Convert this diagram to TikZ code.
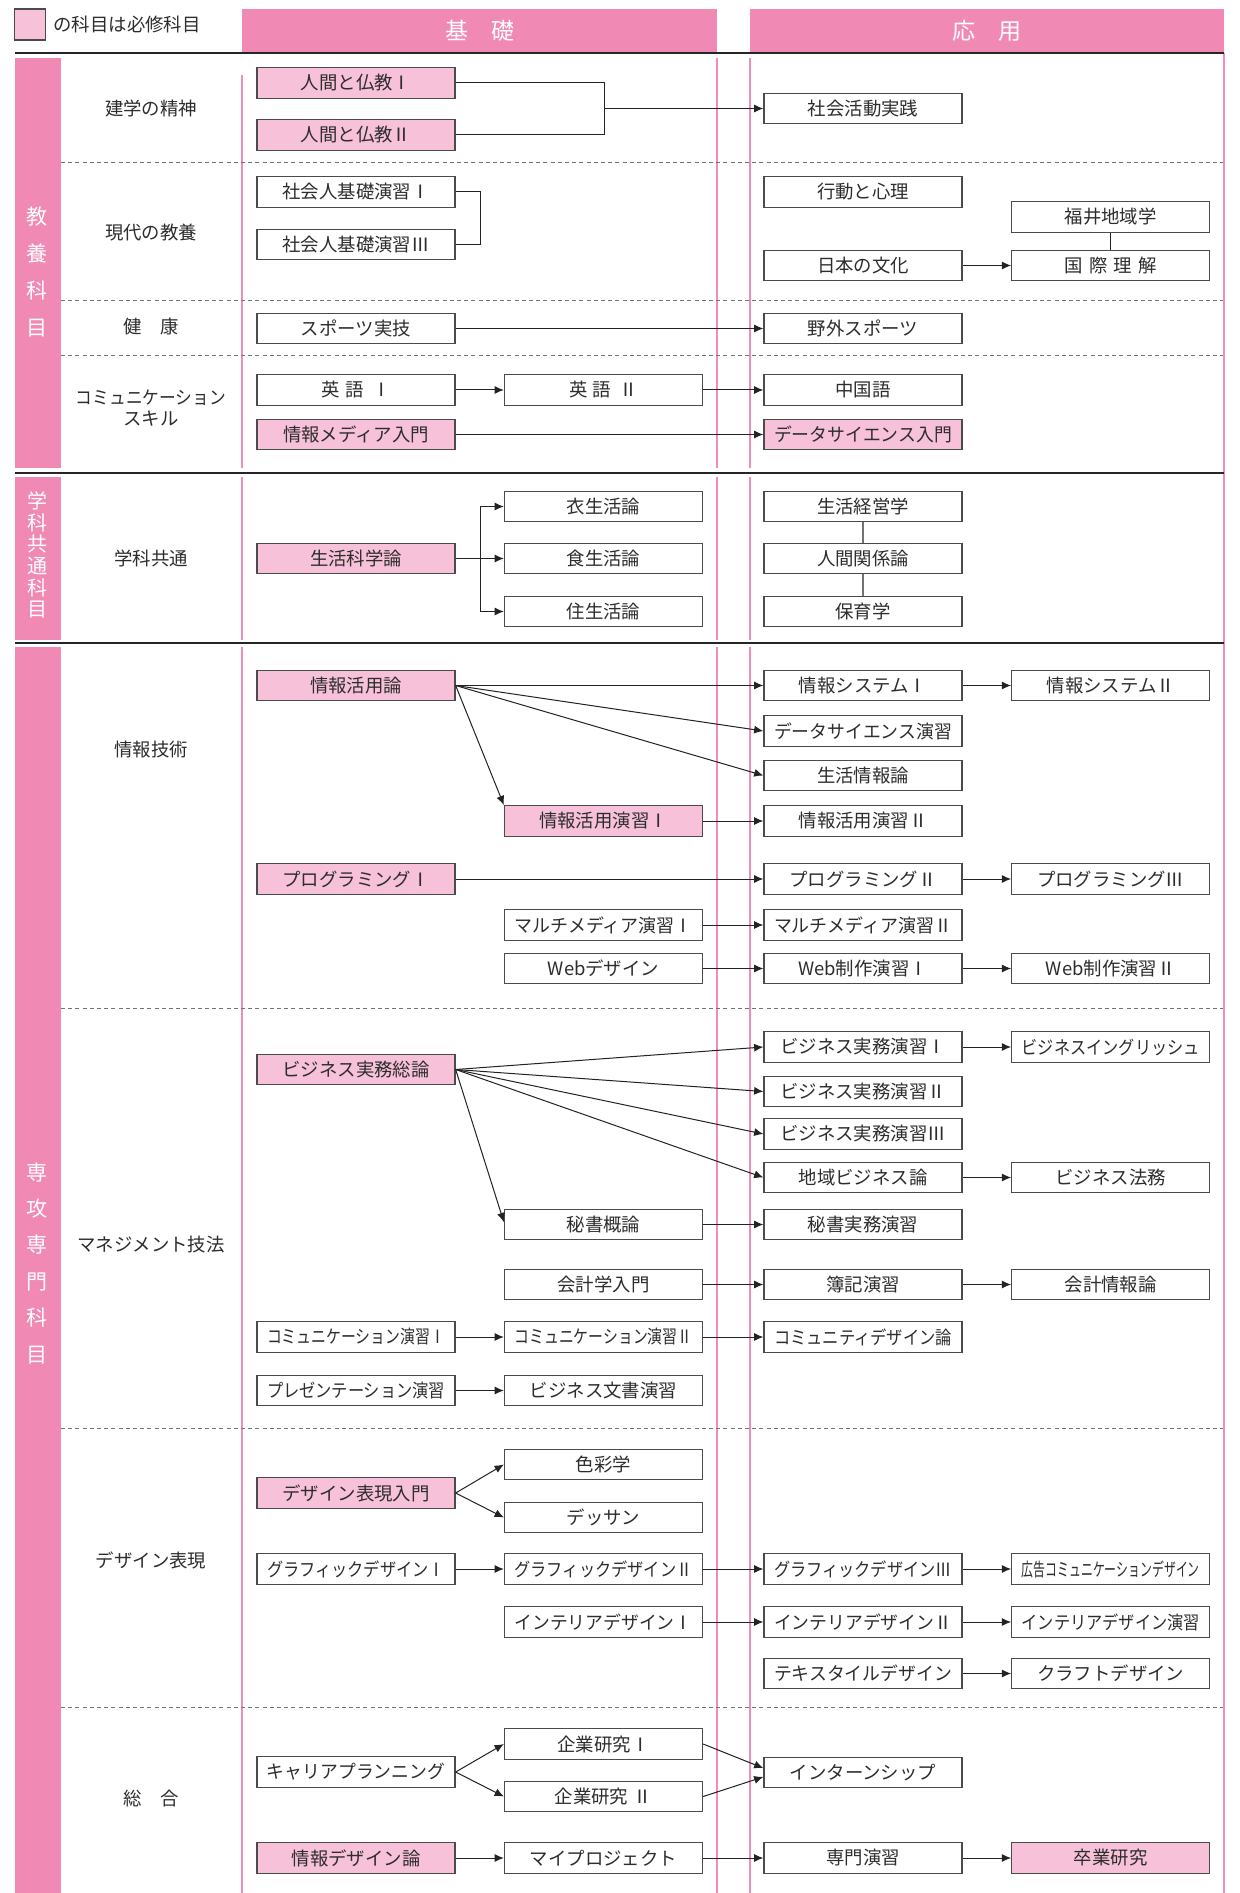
\documentclass[tikz,border=0pt]{standalone}
\usepackage{graphicx}
\usepackage{fontspec}
\setmainfont{Noto Sans CJK JP}
\usetikzlibrary{arrows.meta,calc}
\definecolor{bandpink}{RGB}{241,137,181}
\definecolor{reqpink}{RGB}{247,193,217}
\definecolor{linepink}{RGB}{240,140,185}
\definecolor{txt}{RGB}{45,45,45}
\definecolor{boxline}{RGB}{75,75,75}
\definecolor{conncol}{RGB}{35,35,35}
\newsavebox\fitbx
\newcommand\fitt[1]{\sbox\fitbx{#1}\ifdim\wd\fitbx>89pt\resizebox{89pt}{\height}{\usebox\fitbx}\else\usebox\fitbx\fi}
\tikzset{
  crs/.style={draw=boxline, line width=0.65pt, fill=white, minimum width=99pt, minimum height=15.3pt, inner sep=0pt, text=txt, font=\fontsize{9.2}{11}\selectfont},
  req/.style={crs, fill=reqpink},
  cat/.style={text=txt, font=\fontsize{9.2}{10.5}\selectfont, align=center, inner sep=0pt},
  conn/.style={draw=conncol, line width=0.5pt, -{Latex[length=4.6pt,width=4pt]}},
  link/.style={draw=conncol, line width=0.5pt},
  glink/.style={draw=black!55, line width=0.6pt},
  pinkline/.style={draw=linepink, line width=0.9pt},
  secline/.style={draw=black!85, line width=1pt},
  sepline/.style={draw=black!55, line width=0.5pt, dash pattern=on 2pt off 1.6pt},
  bandtxt/.style={text=white, align=center, inner sep=0pt},
  headband/.style={fill=bandpink, minimum width=237.5pt, minimum height=22pt, inner sep=0pt, text=white, font=\fontsize{11.5}{11.5}\selectfont},
}
\newcommand\cbox[5][crs]{\node[#1] (#2) at (#3,#4) {\fitt{#5}};}
\def\xA{356}
\def\xB{603.5}
\def\xC{863}
\def\xD{1110.75}
\begin{document}
\begin{tikzpicture}[x=0.5pt,y=-0.5pt]
\useasboundingbox (0,0) rectangle (1239,1893);
\fill[white] (0,0) rectangle (1239,1893);

% legend
\node[draw=boxline, line width=0.6pt, fill=reqpink, minimum width=15.4pt, minimum height=15.5pt, inner sep=0pt] (legsq) at (30,24.5) {};
\node[cat, anchor=west] (legtxt) at (53,24.5) {の科目は必修科目};

% header bands
\node[headband] (hkiso) at (479.5,31) {基\hspace{1em}礎};
\node[headband, minimum width=237pt] (hoyo) at (987,31) {応\hspace{1em}用};

% left bands
\fill[bandpink] (14.6,58) rectangle (60.5,468);
\fill[bandpink] (14.6,477) rectangle (60.5,640);
\fill[bandpink] (14.6,647) rectangle (60.5,1893);
\node[bandtxt, font=\fontsize{10.5}{18.5}\selectfont] (band1) at (37,272) {教\\養\\科\\目};
\node[bandtxt, font=\fontsize{10}{10.8}\selectfont] (band2) at (37,555) {学\\科\\共\\通\\科\\目};
\node[bandtxt, font=\fontsize{10.5}{18.2}\selectfont] (band3) at (37,1263) {専\\攻\\専\\門\\科\\目};

% pink vertical lines
\draw[pinkline] (242,75) -- (242,468);
\draw[pinkline] (242,477) -- (242,640);
\draw[pinkline] (242,647) -- (242,1893);
\foreach \xx in {717,750}{
  \draw[pinkline] (\xx,58) -- (\xx,468);
  \draw[pinkline] (\xx,477) -- (\xx,640);
  \draw[pinkline] (\xx,647) -- (\xx,1893);
}
\draw[pinkline] (1224,53) -- (1224,1893);

% section lines
\foreach \yy in {53.5,473,643} \draw[secline] (15,\yy) -- (1224,\yy);
\foreach \yy in {163,301,356,1008,1428,1707} \draw[sepline] (61,\yy) -- (1223,\yy);

% category labels
\node[cat] (c1) at (151,108) {建学の精神};
\node[cat] (c2) at (151,233) {現代の教養};
\node[cat] (c3) at (151,327) {健\hspace{1em}康};
\node[cat] (c4) at (151,408.5) {\resizebox{75pt}{\height}{コミュニケーション}\\スキル};
\node[cat] (c5) at (151,558) {学科共通};
\node[cat] (c6) at (151,750) {情報技術};
\node[cat] (c7) at (151,1245) {マネジメント技法};
\node[cat] (c8) at (151,1560) {デザイン表現};
\node[cat] (c9) at (151,1798) {総\hspace{1em}合};

% ===== 教養科目
\cbox[req]{n1}{\xA}{83}{人間と仏教Ⅰ}
\cbox[req]{n2}{\xA}{135}{人間と仏教Ⅱ}
\cbox{shakai}{\xC}{108.5}{社会活動実践}
\cbox{kiso1}{\xA}{192}{社会人基礎演習Ⅰ}
\cbox{kiso3}{\xA}{244.5}{社会人基礎演習Ⅲ}
\cbox{kodo}{\xC}{192}{行動と心理}
\cbox{fukui}{\xD}{217}{福井地域学}
\cbox{nihon}{\xC}{265.5}{日本の文化}
\cbox{kokusai}{\xD}{265.5}{国\hspace{0.35em}際\hspace{0.35em}理\hspace{0.35em}解}
\cbox{sports}{\xA}{328.5}{スポーツ実技}
\cbox{yagai}{\xC}{328.5}{野外スポーツ}
\cbox{eng1}{\xA}{390}{英\hspace{0.3em}語\hspace{0.45em}Ⅰ}
\cbox{eng2}{\xB}{390}{英\hspace{0.3em}語\hspace{0.45em}Ⅱ}
\cbox{chinese}{\xC}{390}{中国語}
\cbox[req]{media}{\xA}{434.5}{情報メディア入門}
\cbox[req]{dsi}{\xC}{434.5}{データサイエンス入門}

\coordinate (brk) at (604,108.5);
\draw[link] (n1.east) -| (brk);
\draw[link] (n2.east) -| (brk);
\draw[conn] (brk) -- (shakai.west);
\draw[link] (kiso1.east) -- ++(25,0) |- (kiso3.east);
\draw[conn] (nihon) -- (kokusai);
\draw[link] (fukui) -- (kokusai);
\draw[conn] (sports) -- (yagai);
\draw[conn] (eng1) -- (eng2);
\draw[conn] (eng2) -- (chinese);
\draw[conn] (media) -- (dsi);

% ===== 学科共通科目
\cbox[req]{seikatsu}{\xA}{558.5}{生活科学論}
\cbox{iseikatsu}{\xB}{506.5}{衣生活論}
\cbox{shoku}{\xB}{558.5}{食生活論}
\cbox{juseikatsu}{\xB}{611.5}{住生活論}
\cbox{keiei}{\xC}{506.5}{生活経営学}
\cbox{ningen}{\xC}{558.5}{人間関係論}
\cbox{hoiku}{\xC}{611.5}{保育学}

\coordinate (trk) at (480,558.5);
\draw[conn] (seikatsu) -- (shoku);
\draw[link] (trk |- iseikatsu.west) -- (trk |- juseikatsu.west);
\draw[conn] (trk |- iseikatsu.west) -- (iseikatsu.west);
\draw[conn] (trk |- juseikatsu.west) -- (juseikatsu.west);
\draw[glink] (keiei) -- (ningen);
\draw[glink] (ningen) -- (hoiku);

% ===== 情報技術
\cbox[req]{jk}{\xA}{685.5}{情報活用論}
\cbox{sys1}{\xC}{685.5}{情報システムⅠ}
\cbox{sys2}{\xD}{685.5}{情報システムⅡ}
\cbox{dse}{\xC}{731}{データサイエンス演習}
\cbox{sj}{\xC}{775.5}{生活情報論}
\cbox[req]{je1}{\xB}{821}{情報活用演習Ⅰ}
\cbox{je2}{\xC}{821}{情報活用演習Ⅱ}
\cbox[req]{p1}{\xA}{879}{プログラミングⅠ}
\cbox{p2}{\xC}{879}{プログラミングⅡ}
\cbox{p3}{\xD}{879}{プログラミングⅢ}
\cbox{mm1}{\xB}{925}{マルチメディア演習Ⅰ}
\cbox{mm2}{\xC}{925}{マルチメディア演習Ⅱ}
\cbox{webd}{\xB}{968.5}{Webデザイン}
\cbox{web1}{\xC}{968.5}{Web制作演習Ⅰ}
\cbox{web2}{\xD}{968.5}{Web制作演習Ⅱ}

\draw[conn] (jk) -- (sys1);
\draw[conn] (jk.east) -- (dse.west);
\draw[conn] (jk.east) -- (sj.west);
\draw[conn] (jk.east) -- (je1.north west);
\draw[conn] (sys1) -- (sys2);
\draw[conn] (je1) -- (je2);
\draw[conn] (p1) -- (p2);
\draw[conn] (p2) -- (p3);
\draw[conn] (mm1) -- (mm2);
\draw[conn] (webd) -- (web1);
\draw[conn] (web1) -- (web2);

% ===== マネジメント技法
\cbox[req]{bz}{\xA}{1069.5}{ビジネス実務総論}
\cbox{bp1}{\xC}{1047}{ビジネス実務演習Ⅰ}
\cbox{beng}{\xD}{1047}{ビジネスイングリッシュ}
\cbox{bp2}{\xC}{1091.5}{ビジネス実務演習Ⅱ}
\cbox{bp3}{\xC}{1134}{ビジネス実務演習Ⅲ}
\cbox{chiiki}{\xC}{1177.5}{地域ビジネス論}
\cbox{houmu}{\xD}{1177.5}{ビジネス法務}
\cbox{hisho}{\xB}{1224.5}{秘書概論}
\cbox{hishoj}{\xC}{1224.5}{秘書実務演習}
\cbox{kaikei}{\xB}{1284.5}{会計学入門}
\cbox{boki}{\xC}{1284.5}{簿記演習}
\cbox{kaikeij}{\xD}{1284.5}{会計情報論}
\cbox{com1}{\xA}{1337}{コミュニケーション演習Ⅰ}
\cbox{com2}{\xB}{1337}{コミュニケーション演習Ⅱ}
\cbox{comd}{\xC}{1337}{コミュニティデザイン論}
\cbox{pres}{\xA}{1390.5}{プレゼンテーション演習}
\cbox{bunsho}{\xB}{1390.5}{ビジネス文書演習}

\draw[conn] (bz.east) -- (bp1.west);
\draw[conn] (bz.east) -- (bp2.west);
\draw[conn] (bz.east) -- (bp3.west);
\draw[conn] (bz.east) -- (chiiki.west);
\draw[conn] (bz.east) -- ([yshift=1.2pt]hisho.west);
\draw[conn] (bp1) -- (beng);
\draw[conn] (chiiki) -- (houmu);
\draw[conn] (hisho) -- (hishoj);
\draw[conn] (kaikei) -- (boki);
\draw[conn] (boki) -- (kaikeij);
\draw[conn] (com1) -- (com2);
\draw[conn] (com2) -- (comd);
\draw[conn] (pres) -- (bunsho);

% ===== デザイン表現
\cbox{shikisai}{\xB}{1464.5}{色彩学}
\cbox[req]{dnyumon}{\xA}{1493}{デザイン表現入門}
\cbox{dessan}{\xB}{1517.5}{デッサン}
\cbox{g1}{\xA}{1569}{グラフィックデザインⅠ}
\cbox{g2}{\xB}{1569}{グラフィックデザインⅡ}
\cbox{g3}{\xC}{1569}{グラフィックデザインⅢ}
\cbox{koukoku}{\xD}{1569}{広告コミュニケーションデザイン}
\cbox{in1}{\xB}{1622}{インテリアデザインⅠ}
\cbox{in2}{\xC}{1622}{インテリアデザインⅡ}
\cbox{inen}{\xD}{1622}{インテリアデザイン演習}
\cbox{tex}{\xC}{1673.5}{テキスタイルデザイン}
\cbox{craft}{\xD}{1673.5}{クラフトデザイン}

\draw[conn] (dnyumon.east) -- (shikisai.west);
\draw[conn] (dnyumon.east) -- (dessan.west);
\draw[conn] (g1) -- (g2);
\draw[conn] (g2) -- (g3);
\draw[conn] (g3) -- (koukoku);
\draw[conn] (in1) -- (in2);
\draw[conn] (in2) -- (inen);
\draw[conn] (tex) -- (craft);

% ===== 総合
\cbox{k1}{\xB}{1744}{企業研究Ⅰ}
\cbox{career}{\xA}{1772}{キャリアプランニング}
\cbox{k2}{\xB}{1796.5}{企業研究\hspace{0.3em}Ⅱ}
\cbox{intern}{\xC}{1772.5}{インターンシップ}
\cbox[req]{jd}{\xA}{1858}{情報デザイン論}
\cbox{mp}{\xB}{1858}{マイプロジェクト}
\cbox{senmon}{\xC}{1858}{専門演習}
\cbox[req]{sotsu}{\xD}{1858}{卒業研究}

\draw[conn] (career.east) -- (k1.west);
\draw[conn] (career.east) -- (k2.west);
\draw[conn] (k1.east) -- ([yshift=2.2pt]intern.west);
\draw[conn] (k2.east) -- ([yshift=-2.2pt]intern.west);
\draw[conn] (jd) -- (mp);
\draw[conn] (mp) -- (senmon);
\draw[conn] (senmon) -- (sotsu);
\end{tikzpicture}
\end{document}
